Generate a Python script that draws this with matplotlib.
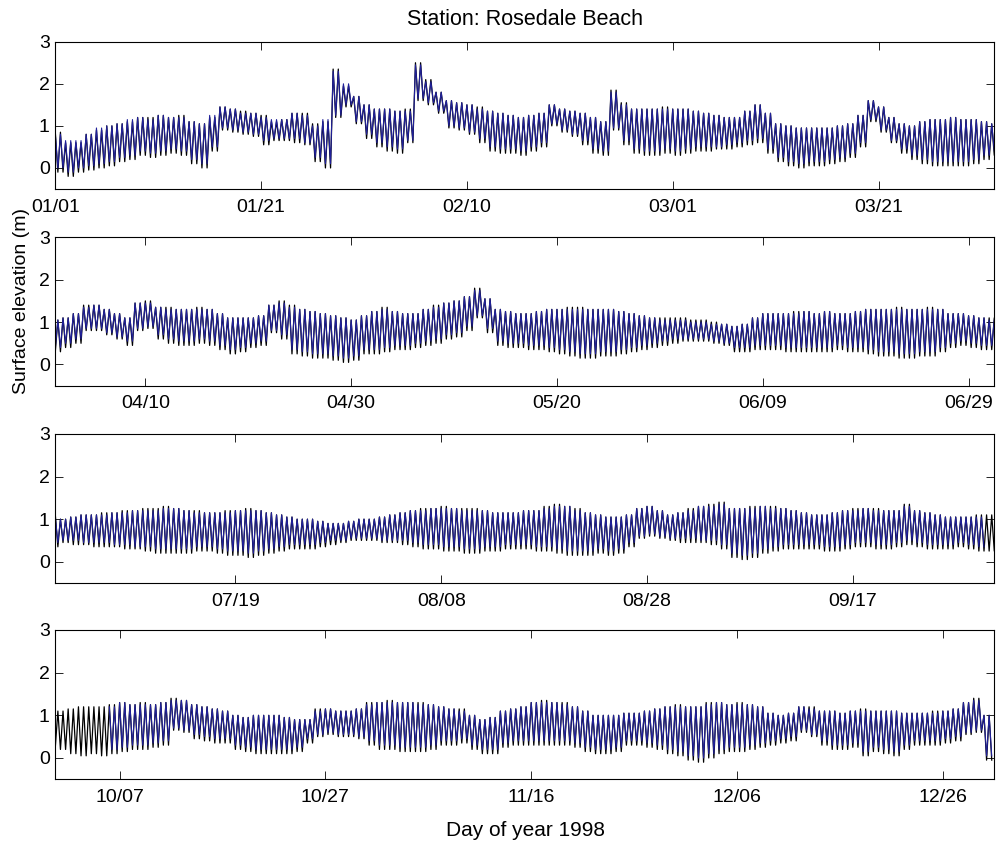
import matplotlib
matplotlib.use("Agg")
import numpy as np
import matplotlib.pyplot as plt

plt.rcParams['font.family'] = ['Liberation Sans', 'DejaVu Sans']

# ---------------- data (daily high / low water, m) ----------------
# Observed (black), day of year 1..365, split by quarter (panel)
OBS_HIGH_Q1 = [0.85, 0.6, 0.6, 0.8, 0.9, 1.0, 1.05, 1.1, 1.2, 1.2,
               1.25, 1.2, 1.25, 1.1, 1.05, 1.2, 1.45, 1.4, 1.35, 1.3,
               1.25, 1.1, 1.15, 1.3, 1.3, 1.05, 1.1, 2.35, 1.95, 1.7,
               1.5, 1.4, 1.4, 1.35, 1.4, 2.5, 2.1, 1.8, 1.6, 1.55,
               1.5, 1.45, 1.35, 1.3, 1.25, 1.2, 1.25, 1.3, 1.5, 1.4,
               1.35, 1.3, 1.2, 1.1, 1.85, 1.55, 1.4, 1.4, 1.4, 1.45,
               1.4, 1.4, 1.35, 1.3, 1.25, 1.2, 1.2, 1.35, 1.5, 1.3,
               1.05, 1.0, 0.95, 0.95, 0.95, 0.95, 1.0, 1.05, 1.25, 1.6,
               1.45, 1.2, 1.05, 1.0, 1.1, 1.15, 1.15, 1.2, 1.15, 1.15,
               1.1]
OBS_LOW_Q1 = [-0.1, -0.2, -0.1, -0.05, 0.0, 0.05, 0.15, 0.2, 0.3, 0.25,
              0.3, 0.35, 0.3, 0.1, 0.0, 0.4, 0.9, 0.85, 0.8, 0.75,
              0.55, 0.65, 0.65, 0.6, 0.55, 0.15, 0.0, 1.2, 1.45, 1.05,
              0.7, 0.5, 0.4, 0.35, 0.6, 1.6, 1.5, 1.3, 0.95, 0.9,
              0.8, 0.6, 0.4, 0.35, 0.35, 0.3, 0.4, 0.5, 1.0, 0.85,
              0.75, 0.55, 0.35, 0.3, 0.9, 0.55, 0.35, 0.3, 0.3, 0.35,
              0.3, 0.35, 0.4, 0.4, 0.45, 0.45, 0.5, 0.55, 0.6, 0.35,
              0.15, 0.05, 0.0, 0.05, 0.05, 0.1, 0.15, 0.25, 0.5, 1.1,
              0.85, 0.6, 0.35, 0.2, 0.1, 0.05, 0.05, 0.05, 0.05, 0.1,
              0.2]
OBS_HIGH_Q2 = [1.05, 1.1, 1.2, 1.4, 1.4, 1.3, 1.2, 1.1, 1.45, 1.5,
               1.35, 1.35, 1.3, 1.3, 1.35, 1.3, 1.2, 1.1, 1.1, 1.1,
               1.15, 1.4, 1.5, 1.4, 1.3, 1.25, 1.2, 1.15, 1.1, 1.05,
               1.15, 1.25, 1.35, 1.25, 1.2, 1.2, 1.3, 1.4, 1.45, 1.5,
               1.6, 1.8, 1.55, 1.3, 1.25, 1.2, 1.2, 1.25, 1.3, 1.3,
               1.35, 1.35, 1.3, 1.3, 1.3, 1.25, 1.2, 1.15, 1.1, 1.1,
               1.1, 1.1, 1.05, 1.05, 1.0, 0.95, 0.9, 0.95, 1.1, 1.2,
               1.2, 1.2, 1.25, 1.25, 1.2, 1.25, 1.2, 1.2, 1.25, 1.3,
               1.3, 1.3, 1.35, 1.3, 1.3, 1.35, 1.3, 1.2, 1.2, 1.15,
               1.1]
OBS_LOW_Q2 = [0.3, 0.4, 0.5, 0.8, 0.8, 0.7, 0.6, 0.45, 0.8, 0.85,
              0.6, 0.5, 0.45, 0.45, 0.5, 0.45, 0.35, 0.25, 0.3, 0.4,
              0.45, 0.75, 0.6, 0.25, 0.2, 0.15, 0.15, 0.1, 0.05, 0.1,
              0.25, 0.25, 0.3, 0.35, 0.35, 0.4, 0.45, 0.5, 0.6, 0.65,
              0.8, 1.1, 0.75, 0.45, 0.4, 0.4, 0.35, 0.35, 0.3, 0.25,
              0.2, 0.15, 0.15, 0.2, 0.2, 0.25, 0.3, 0.35, 0.4, 0.45,
              0.5, 0.55, 0.55, 0.55, 0.5, 0.45, 0.3, 0.3, 0.35, 0.35,
              0.35, 0.3, 0.3, 0.3, 0.3, 0.3, 0.35, 0.3, 0.3, 0.25,
              0.2, 0.2, 0.15, 0.15, 0.2, 0.2, 0.3, 0.4, 0.45, 0.4,
              0.35]
OBS_HIGH_Q3 = [1.1, 1.0, 1.05, 1.1, 1.1, 1.15, 1.15, 1.2, 1.2, 1.25,
               1.25, 1.3, 1.25, 1.2, 1.2, 1.15, 1.15, 1.2, 1.2, 1.25,
               1.2, 1.15, 1.1, 1.05, 1.0, 1.0, 0.95, 0.9, 0.9, 0.95,
               1.0, 1.0, 1.05, 1.1, 1.15, 1.2, 1.25, 1.25, 1.3, 1.25,
               1.25, 1.25, 1.2, 1.15, 1.15, 1.15, 1.2, 1.2, 1.3, 1.35,
               1.3, 1.25, 1.15, 1.1, 1.05, 1.05, 1.1, 1.25, 1.3, 1.2,
               1.1, 1.15, 1.25, 1.3, 1.35, 1.4, 1.25, 1.25, 1.3, 1.3,
               1.3, 1.25, 1.2, 1.15, 1.1, 1.1, 1.15, 1.2, 1.25, 1.25,
               1.25, 1.2, 1.2, 1.35, 1.2, 1.15, 1.1, 1.05, 1.05, 1.05,
               1.1]
OBS_LOW_Q3 = [0.35, 0.45, 0.4, 0.4, 0.35, 0.35, 0.35, 0.3, 0.3, 0.25,
              0.2, 0.2, 0.2, 0.2, 0.25, 0.25, 0.2, 0.15, 0.15, 0.1,
              0.15, 0.2, 0.25, 0.3, 0.3, 0.3, 0.35, 0.4, 0.45, 0.5,
              0.5, 0.5, 0.45, 0.45, 0.4, 0.35, 0.3, 0.3, 0.25, 0.25,
              0.2, 0.2, 0.25, 0.25, 0.3, 0.3, 0.3, 0.25, 0.25, 0.2,
              0.15, 0.15, 0.15, 0.2, 0.15, 0.2, 0.35, 0.55, 0.6, 0.55,
              0.5, 0.45, 0.45, 0.45, 0.4, 0.3, 0.1, 0.05, 0.1, 0.2,
              0.25, 0.3, 0.3, 0.3, 0.3, 0.25, 0.25, 0.3, 0.35, 0.35,
              0.3, 0.3, 0.35, 0.4, 0.35, 0.3, 0.3, 0.3, 0.35, 0.3,
              0.25]
OBS_HIGH_Q4 = [1.1, 1.1, 1.15, 1.2, 1.2, 1.2, 1.25, 1.3, 1.25, 1.3,
               1.25, 1.3, 1.4, 1.35, 1.25, 1.2, 1.15, 1.1, 1.0, 0.95,
               1.0, 1.0, 1.0, 0.95, 0.9, 0.9, 1.15, 1.15, 1.1, 1.1,
               1.15, 1.3, 1.3, 1.35, 1.3, 1.3, 1.3, 1.25, 1.2, 1.15,
               1.15, 1.0, 0.9, 0.95, 1.1, 1.15, 1.2, 1.3, 1.35, 1.3,
               1.3, 1.2, 1.1, 1.0, 1.0, 1.0, 1.05, 1.05, 1.1, 1.15,
               1.2, 1.25, 1.2, 1.2, 1.3, 1.3, 1.25, 1.3, 1.25, 1.2,
               1.05, 1.0, 1.05, 1.2, 1.2, 1.1, 1.1, 1.05, 1.1, 1.15,
               1.1, 1.1, 1.1, 1.05, 1.05, 1.05, 1.1, 1.1, 1.15, 1.3,
               1.4, 1.0]
OBS_LOW_Q4 = [0.25, 0.2, 0.1, 0.05, 0.1, 0.05, 0.1, 0.15, 0.2, 0.2,
              0.25, 0.3, 0.65, 0.6, 0.45, 0.4, 0.35, 0.35, 0.2, 0.15,
              0.1, 0.1, 0.1, 0.1, 0.15, 0.35, 0.5, 0.55, 0.5, 0.5,
              0.45, 0.3, 0.2, 0.2, 0.15, 0.15, 0.15, 0.2, 0.3, 0.3,
              0.35, 0.2, 0.1, 0.1, 0.25, 0.3, 0.3, 0.3, 0.3, 0.3,
              0.3, 0.25, 0.15, 0.1, 0.1, 0.15, 0.3, 0.3, 0.25, 0.2,
              0.1, 0.05, -0.05, -0.1, 0.0, 0.1, 0.15, 0.15, 0.2, 0.25,
              0.3, 0.35, 0.4, 0.6, 0.5, 0.3, 0.2, 0.2, 0.25, 0.05,
              0.15, 0.1, 0.05, 0.2, 0.3, 0.3, 0.3, 0.35, 0.4, 0.55,
              0.6, -0.05]

# Modelled (blue)
NA = np.nan
MOD_HIGH_Q1 = [0.8, 0.65, 0.65, 0.8, 0.95, 1.0, 1.05, 1.15, 1.2, 1.15,
               1.25, 1.2, 1.2, 1.1, 1.05, 1.25, 1.45, 1.4, 1.3, 1.3,
               1.2, 1.15, 1.15, 1.3, 1.25, 1.0, 1.15, 2.3, 2.0, 1.7,
               1.5, 1.4, 1.4, 1.35, 1.35, 2.45, 2.05, 1.8, 1.6, 1.55,
               1.5, 1.4, 1.35, 1.3, 1.25, 1.2, 1.25, 1.3, 1.5, 1.4,
               1.35, 1.3, 1.2, 1.1, 1.8, 1.5, 1.4, 1.4, 1.4, 1.4,
               1.4, 1.4, 1.35, 1.3, 1.25, 1.2, 1.2, 1.35, 1.5, 1.3,
               1.05, 1.0, 0.95, 0.95, 0.95, 0.95, 1.0, 1.05, 1.25, 1.6,
               1.45, 1.2, 1.05, 1.0, 1.1, 1.15, 1.15, 1.2, 1.15, 1.15,
               1.1]
MOD_LOW_Q1 = [0.0, -0.1, 0.0, 0.05, 0.1, 0.15, 0.25, 0.3, 0.4, 0.35,
              0.4, 0.45, 0.4, 0.2, 0.1, 0.5, 0.95, 0.9, 0.85, 0.8,
              0.65, 0.7, 0.7, 0.7, 0.6, 0.25, 0.1, 1.25, 1.5, 1.1,
              0.8, 0.6, 0.5, 0.45, 0.65, 1.65, 1.55, 1.35, 1.0, 0.95,
              0.85, 0.7, 0.5, 0.45, 0.45, 0.4, 0.5, 0.6, 1.05, 0.9,
              0.8, 0.65, 0.45, 0.4, 0.95, 0.65, 0.45, 0.4, 0.4, 0.45,
              0.4, 0.45, 0.5, 0.5, 0.5, 0.55, 0.6, 0.65, 0.7, 0.45,
              0.25, 0.15, 0.1, 0.15, 0.15, 0.2, 0.25, 0.35, 0.6, 1.15,
              0.9, 0.65, 0.45, 0.3, 0.2, 0.15, 0.15, 0.15, 0.15, 0.2,
              0.3]
MOD_HIGH_Q2 = [1.05, 1.1, 1.2, 1.35, 1.4, 1.3, 1.2, 1.1, 1.45, 1.45,
               1.35, 1.3, 1.3, 1.3, 1.3, 1.3, 1.2, 1.1, 1.1, 1.1,
               1.15, 1.4, 1.45, 1.35, 1.3, 1.25, 1.2, 1.15, 1.1, 1.05,
               1.15, 1.25, 1.3, 1.25, 1.2, 1.2, 1.3, 1.35, 1.45, 1.5,
               1.6, 1.75, 1.55, 1.3, 1.25, 1.2, 1.2, 1.25, 1.3, 1.3,
               1.3, 1.3, 1.3, 1.3, 1.3, 1.25, 1.2, 1.15, 1.1, 1.05,
               1.05, 1.05, 1.0, 1.0, 0.95, 0.95, 0.9, 0.95, 1.1, 1.2,
               1.2, 1.2, 1.2, 1.25, 1.2, 1.25, 1.2, 1.2, 1.25, 1.3,
               1.3, 1.3, 1.3, 1.3, 1.3, 1.3, 1.3, 1.2, 1.2, 1.15,
               1.1]
MOD_LOW_Q2 = [0.4, 0.5, 0.6, 0.85, 0.85, 0.75, 0.65, 0.55, 0.85, 0.9,
              0.7, 0.6, 0.55, 0.55, 0.6, 0.55, 0.45, 0.35, 0.4, 0.5,
              0.55, 0.8, 0.7, 0.35, 0.3, 0.25, 0.25, 0.2, 0.15, 0.2,
              0.35, 0.35, 0.4, 0.45, 0.45, 0.5, 0.55, 0.6, 0.7, 0.75,
              0.9, 1.15, 0.85, 0.55, 0.5, 0.5, 0.45, 0.45, 0.4, 0.35,
              0.3, 0.25, 0.25, 0.3, 0.3, 0.35, 0.4, 0.45, 0.5, 0.55,
              0.6, 0.6, 0.6, 0.6, 0.55, 0.5, 0.4, 0.4, 0.45, 0.45,
              0.45, 0.4, 0.4, 0.4, 0.4, 0.4, 0.45, 0.4, 0.4, 0.35,
              0.3, 0.3, 0.25, 0.25, 0.3, 0.3, 0.4, 0.5, 0.55, 0.5,
              0.45]
MOD_HIGH_Q3 = [1.05, 1.0, 1.05, 1.1, 1.1, 1.1, 1.15, 1.15, 1.2, 1.2,
               1.2, 1.25, 1.25, 1.2, 1.15, 1.15, 1.15, 1.15, 1.2, 1.2,
               1.2, 1.15, 1.1, 1.05, 1.0, 1.0, 0.95, 0.9, 0.9, 0.95,
               1.0, 1.0, 1.05, 1.1, 1.15, 1.2, 1.2, 1.25, 1.25, 1.25,
               1.2, 1.2, 1.2, 1.15, 1.15, 1.15, 1.2, 1.2, 1.25, 1.3,
               1.3, 1.2, 1.15, 1.1, 1.05, 1.05, 1.1, 1.25, 1.3, 1.2,
               1.1, 1.15, 1.2, 1.3, 1.3, 1.35, 1.25, 1.25, 1.25, 1.3,
               1.25, 1.25, 1.2, 1.15, 1.1, 1.1, 1.15, 1.2, 1.2, 1.25,
               1.2, 1.2, 1.2, 1.3, 1.2, 1.15, 1.1, 1.05, 1.05, 1.05,
               1.05]
MOD_LOW_Q3 = [0.45, 0.5, 0.5, 0.45, 0.45, 0.45, 0.4, 0.4, 0.35, 0.35,
              0.3, 0.3, 0.3, 0.3, 0.35, 0.35, 0.3, 0.25, 0.25, 0.2,
              0.25, 0.3, 0.35, 0.4, 0.4, 0.4, 0.45, 0.5, 0.5, 0.55,
              0.55, 0.55, 0.5, 0.5, 0.5, 0.45, 0.4, 0.4, 0.35, 0.35,
              0.3, 0.3, 0.35, 0.35, 0.4, 0.4, 0.4, 0.35, 0.35, 0.3,
              0.25, 0.25, 0.25, 0.3, 0.25, 0.3, 0.45, 0.6, 0.65, 0.6,
              0.55, 0.55, 0.55, 0.5, 0.5, 0.4, 0.2, 0.15, 0.2, 0.3,
              0.35, 0.4, 0.4, 0.4, 0.4, 0.35, 0.35, 0.4, 0.45, 0.45,
              0.4, 0.4, 0.45, 0.5, 0.45, 0.4, 0.4, 0.4, 0.45, 0.4,
              0.35]
MOD_HIGH_Q4 = [NA, NA, NA, NA, NA, NA, 1.2, 1.3, 1.25, 1.25,
               1.25, 1.3, 1.35, 1.35, 1.25, 1.2, 1.15, 1.1, 1.0, 0.95,
               1.0, 1.0, 1.0, 0.95, 0.9, 0.9, 1.1, 1.15, 1.1, 1.1,
               1.15, 1.25, 1.3, 1.3, 1.3, 1.3, 1.25, 1.25, 1.2, 1.15,
               1.1, 1.0, 0.9, 0.95, 1.1, 1.15, 1.2, 1.3, 1.3, 1.3,
               1.25, 1.2, 1.1, 1.0, 1.0, 1.0, 1.05, 1.05, 1.1, 1.15,
               1.2, 1.2, 1.2, 1.2, 1.25, 1.3, 1.25, 1.25, 1.25, 1.2,
               1.05, 1.0, 1.05, 1.2, 1.15, 1.1, 1.1, 1.05, 1.1, 1.1,
               1.1, 1.1, 1.1, 1.05, 1.05, 1.05, 1.05, 1.1, 1.15, 1.3,
               1.35, 1.0]
MOD_LOW_Q4 = [NA, NA, NA, NA, NA, NA, 0.2, 0.25, 0.3, 0.3,
              0.35, 0.4, 0.7, 0.65, 0.55, 0.5, 0.45, 0.45, 0.3, 0.25,
              0.2, 0.2, 0.2, 0.2, 0.25, 0.45, 0.55, 0.6, 0.55, 0.55,
              0.5, 0.4, 0.3, 0.3, 0.25, 0.25, 0.25, 0.3, 0.4, 0.4,
              0.45, 0.3, 0.2, 0.2, 0.35, 0.4, 0.4, 0.4, 0.4, 0.4,
              0.4, 0.35, 0.25, 0.2, 0.2, 0.25, 0.4, 0.4, 0.35, 0.3,
              0.2, 0.15, 0.05, 0.0, 0.1, 0.2, 0.25, 0.25, 0.3, 0.35,
              0.4, 0.45, 0.5, 0.65, 0.55, 0.4, 0.3, 0.3, 0.35, 0.15,
              0.25, 0.2, 0.15, 0.3, 0.4, 0.4, 0.4, 0.45, 0.5, 0.6,
              0.65, 0.05]

QUARTER_START_DAY = [1, 92, 183, 274]
PANEL_XLIM = [(1, 92.25), (92.25, 183.5), (183.5, 274.75), (274.75, 366)]
TICK_DAYS = [1, 21, 41, 61, 81, 101, 121, 141, 161, 181, 201, 221, 241,
             261, 281, 301, 321, 341, 361]
TICK_LABELS = ['01/01', '01/21', '02/10', '03/01', '03/21', '04/10', '04/30',
               '05/20', '06/09', '06/29', '07/19', '08/08', '08/28', '09/17',
               '10/07', '10/27', '11/16', '12/06', '12/26']
# semi-diurnal timing of high, low, high, low within each day
TIDE_PHASE = [0.0, 0.25, 0.5, 0.75]


def tide_series(highs_q, lows_q):
    t_all, v_all = [], []
    for start, hi, lo in zip(QUARTER_START_DAY, highs_q, lows_q):
        hi = np.asarray(hi, float)
        lo = np.asarray(lo, float)
        n = min(len(hi), len(lo))
        days = start + np.arange(n)
        t = (days[:, None] + np.asarray(TIDE_PHASE)[None, :]).ravel()
        v = np.column_stack([hi[:n], lo[:n], hi[:n], lo[:n]]).ravel()
        t_all.append(t)
        v_all.append(v)
    return np.concatenate(t_all), np.concatenate(v_all)


t_obs, v_obs = tide_series([OBS_HIGH_Q1, OBS_HIGH_Q2, OBS_HIGH_Q3, OBS_HIGH_Q4],
                           [OBS_LOW_Q1, OBS_LOW_Q2, OBS_LOW_Q3, OBS_LOW_Q4])
t_mod, v_mod = tide_series([MOD_HIGH_Q1, MOD_HIGH_Q2, MOD_HIGH_Q3, MOD_HIGH_Q4],
                           [MOD_LOW_Q1, MOD_LOW_Q2, MOD_LOW_Q3, MOD_LOW_Q4])

# ---------------- figure ----------------
W, H = 1001, 841
fig = plt.figure(figsize=(W / 100, H / 100), dpi=100)

panel_px = [(41.7, 189.0), (237.3, 385.7), (434.0, 583.0), (630.0, 779.3)]
left_px, right_px = 55.3, 994.3
FS = 14

for (top, bot), xl in zip(panel_px, PANEL_XLIM):
    ax = fig.add_axes([left_px / W, 1 - bot / H, (right_px - left_px) / W, (bot - top) / H])
    ax.plot(t_obs, v_obs, color='black', lw=0.9)
    ax.plot(t_mod, v_mod, color='#20209a', lw=0.8)
    ax.set_yticks([0, 1, 2, 3])
    ax.set_yticklabels(['0', '1', '2', '3'])
    ax.set_xticks(TICK_DAYS)
    ax.set_xticklabels(TICK_LABELS)
    ax.set_xlim(*xl)
    ax.set_ylim(-0.5, 3)
    ax.tick_params(direction='in', length=6, width=0.6, top=True, right=True,
                   labelsize=FS, colors='black')
    ax.tick_params(axis='x', pad=7)
    ax.tick_params(axis='y', pad=4)
    for s in ax.spines.values():
        s.set_linewidth(0.8)
        s.set_color('black')

fig.text(524.8 / W, 1 - 25 / H, 'Station: Rosedale Beach', ha='center', va='baseline', fontsize=15.5)
fig.text(526 / W, 1 - 836 / H, 'Day of year 1998', ha='center', va='baseline', fontsize=15)
fig.text(22 / W, 1 - 301.5 / H, 'Surface elevation (m)', ha='center', va='center',
         rotation=90, fontsize=14)

fig.savefig('out.png', dpi=100)
